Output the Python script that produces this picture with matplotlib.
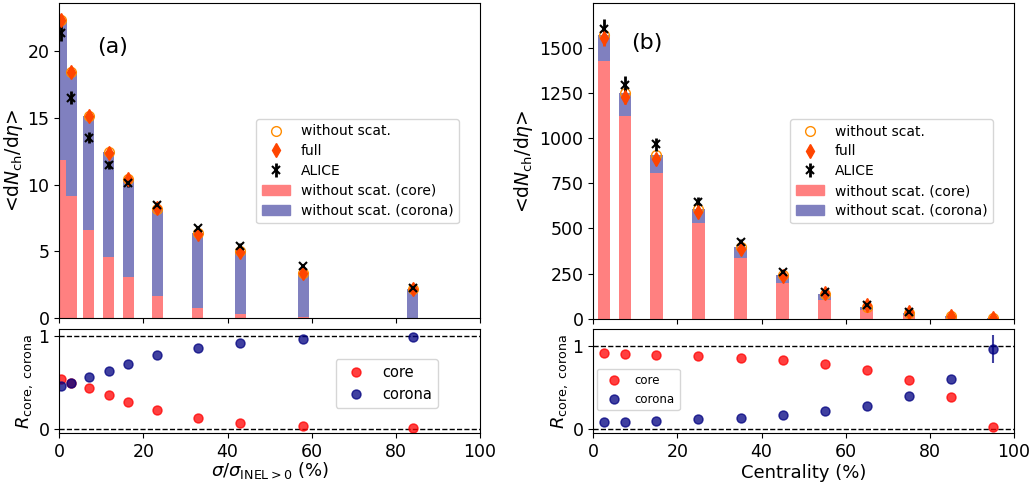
import matplotlib
matplotlib.use("Agg")
import matplotlib.pyplot as plt
import numpy as np
from matplotlib.patches import Patch
from matplotlib.lines import Line2D

# ---------------- data (a) pp ----------------
xa = [0.46, 2.8, 6.95, 11.7, 16.4, 23.3, 32.9, 43.0, 58.0, 84.0]
a_core = [11.87, 9.15, 6.58, 4.56, 3.07, 1.65, 0.75, 0.32, 0.10, 0.02]
a_total = [22.3, 18.4, 15.1, 12.42, 10.40, 8.20, 6.38, 5.03, 3.39, 2.17]
a_full = [22.3, 18.4, 15.13, 12.39, 10.45, 8.25, 6.33, 4.96, 3.39, 2.19]
a_alice = [21.3, 16.5, 13.5, 11.5, 10.1, 8.45, 6.72, 5.4, 3.9, 2.26]
a_alice_err = [0.6, 0.5, 0.4, 0.3, 0.3, 0.25, 0.2, 0.2, 0.15, 0.1]
a_r_core = [0.536, 0.50, 0.44, 0.367, 0.295, 0.205, 0.122, 0.068, 0.029, 0.007]
a_r_corona = [0.464, 0.50, 0.558, 0.63, 0.705, 0.795, 0.874, 0.928, 0.968, 0.99]

# ---------------- data (b) PbPb ----------------
xb = [2.5, 7.5, 15, 25, 35, 45, 55, 65, 75, 85, 95]
b_core = [1426, 1122, 807, 531, 337, 199, 105, 47, 19.5, 5, 0.2]
b_total = [1570, 1248, 907, 606, 398, 243, 138, 66, 33, 13, 5]
b_full = [1552, 1229, 883, 593, 385, 238, 142, 77, 35, 16, 6]
b_full_err = [45, 40, 30, 20, 15, 10, 6, 4, 2, 1, 1]
xb_alice = [2.5, 7.5, 15, 25, 35, 45, 55, 65, 75]
b_alice = [1601, 1294, 966, 649, 426, 261, 149, 76, 35]
b_alice_err = [60, 49, 37, 23, 15, 9, 6, 4, 2]
b_r_core = [0.908, 0.90, 0.892, 0.872, 0.853, 0.825, 0.78, 0.71, 0.59, 0.386, 0.03]
b_r_corona = [0.084, 0.092, 0.104, 0.12, 0.14, 0.167, 0.215, 0.283, 0.40, 0.606, 0.96]
b_r_corona_err = [0, 0, 0, 0, 0, 0, 0, 0, 0, 0, 0.17]

TICK = 12.5
LAB = 13

fig = plt.figure(figsize=(10.35, 4.84), dpi=100)
W, H = 1035.0, 484.0
def ax_at(x0, y0, x1, y1):
    return fig.add_axes([x0 / W, 1 - y1 / H, (x1 - x0) / W, (y1 - y0) / H])

axA = ax_at(59.3, 2.7, 480, 318.3)
axAr = ax_at(59.3, 329.3, 480, 433.3)
axB = ax_at(593.3, 2.7, 1014, 318.8)
axBr = ax_at(593.3, 329.3, 1014, 433.3)

core_c = (1.0, 0.5, 0.5)
corona_c = (0.5, 0.5, 0.75)
MS_C, MS_D, MS_X = 7, 7, 6

def top_panel(ax, x, core, total, full, full_err, xal, alice, alice_err, width):
    corona = [t - c for t, c in zip(total, core)]
    ax.bar(x, core, width=width, color=core_c)
    ax.bar(x, corona, bottom=core, width=width, color=corona_c)
    ax.plot(x, total, 'o', mfc='none', mec='darkorange', ms=MS_C, ls='none')
    ax.errorbar(x, full, yerr=full_err, fmt='d', color='orangered', ms=MS_D, ls='none', elinewidth=2)
    ax.errorbar(xal, alice, yerr=alice_err, fmt='x', color='black', ms=MS_X, mew=1.5, ls='none', elinewidth=2)
    eb = ax.errorbar([], [], yerr=[], fmt='x', color='black', ms=MS_X, mew=1.5, elinewidth=2)
    h = [Line2D([], [], marker='o', mfc='none', mec='darkorange', ms=MS_C, ls='none'),
         Line2D([], [], marker='d', color='orangered', ms=MS_D, ls='none'),
         eb,
         Patch(color=core_c), Patch(color=corona_c)]
    ax.legend(h, ['without scat.', 'full', 'ALICE', 'without scat. (core)', 'without scat. (corona)'],
              loc='upper right', bbox_to_anchor=(0.95, 0.632), borderaxespad=0, fontsize=10,
              labelspacing=0.42)
    ax.set_xlim(0, 100)
    ax.tick_params(labelbottom=False, labelsize=TICK)
    ax.set_ylabel(r'<d$N_{\rm ch}$/d$\eta$>', fontsize=13.5)

def ratio_panel(ax, x, rc, rco, rco_err, xlabel, leg_kw, ylim, lpad):
    ax.axhline(0, color='k', ls='--', lw=1)
    ax.axhline(1, color='k', ls='--', lw=1)
    ax.errorbar(x, rc, fmt='o', color='red', alpha=0.75, ms=6.5)
    ax.errorbar(x, rco, yerr=rco_err, fmt='o', color='navy', alpha=0.75, ms=6.5)
    ax.set_xlim(0, 100)
    ax.set_ylim(*ylim)
    ax.set_yticks([0, 1])
    ax.tick_params(labelsize=TICK)
    ax.set_xlabel(xlabel, fontsize=LAB, labelpad=lpad)
    ax.set_ylabel(r'$R_{\rm core,\ corona}$', fontsize=LAB)
    h = [Line2D([], [], marker='o', color='red', alpha=0.75, ms=6.5, ls='none'),
         Line2D([], [], marker='o', color='navy', alpha=0.75, ms=6.5, ls='none')]
    ax.legend(h, ['core', 'corona'], **leg_kw)

top_panel(axA, xa, a_core, a_total, a_full, None, xa, a_alice, a_alice_err, 2.6)
axA.set_ylim(0, 23.6)
axA.set_yticks([0, 5, 10, 15, 20])
axA.text(9, 20.3, '(a)', fontsize=16, va='center')

top_panel(axB, xb, b_core, b_total, b_full, b_full_err, xb_alice, b_alice, b_alice_err, 3.0)
axB.set_ylim(0, 1749)
axB.set_yticks([0, 250, 500, 750, 1000, 1250, 1500])
axB.text(9.1, 1526, '(b)', fontsize=16, va='center')

ratio_panel(axAr, xa, a_r_core, a_r_corona, None, r'$\sigma/\sigma_{\rm INEL>0}$ (%)',
            dict(loc='upper right', bbox_to_anchor=(0.90, 0.714), borderaxespad=0, fontsize=10.5),
            (-0.046, 1.075), -1)
ratio_panel(axBr, xb, b_r_core, b_r_corona, b_r_corona_err, 'Centrality (%)',
            dict(loc='upper left', bbox_to_anchor=(0.009, 0.618), borderaxespad=0, fontsize=8.5),
            (-0.048, 1.196), 2)

axA.yaxis.set_label_coords(-0.082, 0.5)
axAr.yaxis.set_label_coords(-0.058, 0.5)
axB.yaxis.set_label_coords(-0.138, 0.5)
axBr.yaxis.set_label_coords(-0.055, 0.5)

fig.savefig('out.png', dpi=100)
